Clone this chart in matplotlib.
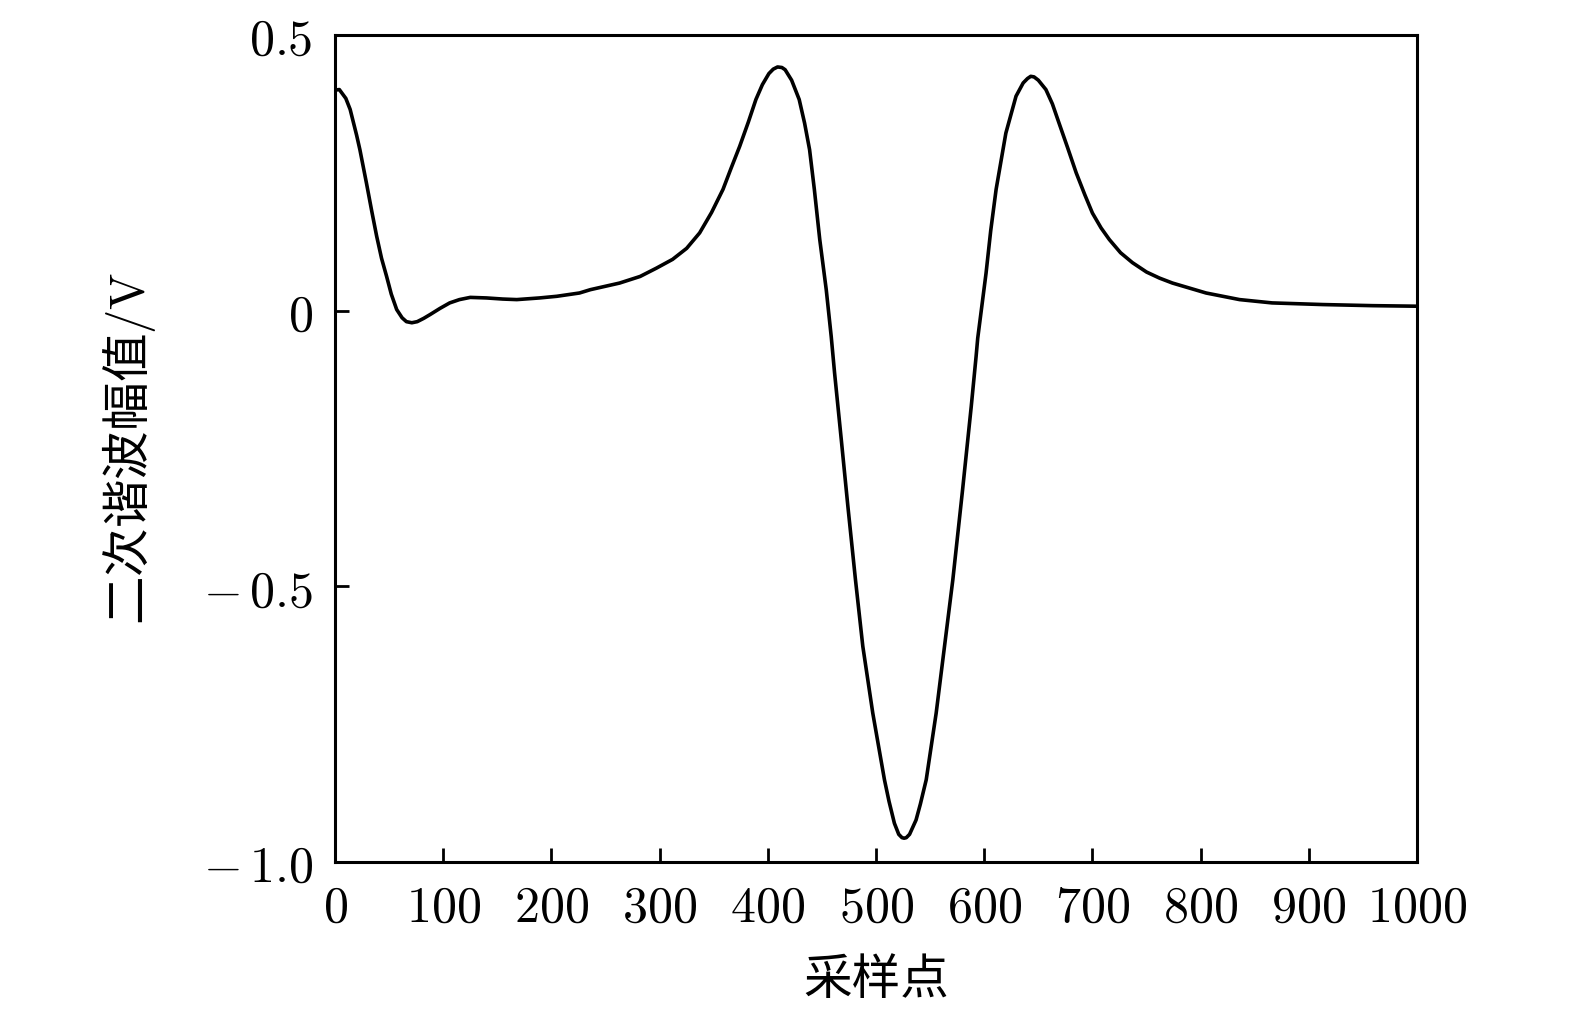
import matplotlib
matplotlib.use('Agg')
import matplotlib.pyplot as plt

TICK_FONT_SIZE = 36
LABEL_FONT_SIZE = 35
LINE_WIDTH = 2.6

plt.rcParams['mathtext.fontset'] = 'cm'
plt.rcParams['font.family'] = ['Noto Sans CJK SC', 'DejaVu Sans']

# sample points
sample_idx = [0, 4, 10, 14, 20, 23, 29, 34, 38.5, 43, 47.7, 52, 57, 62, 66, 71, 76, 82, 88,
              97, 106, 115, 125, 140, 155, 168, 189, 205, 226, 236, 263, 282, 297, 312,
              325, 337, 348, 358.6, 366, 374, 382, 389, 395, 401, 405, 409, 413, 416, 422,
              429, 434, 438.6, 443, 448, 454, 458.6, 461.7, 467.9, 474, 481, 487.8, 497,
              507.8, 512, 517, 521, 524, 526, 528, 531, 537, 541, 546.4, 555.6, 563.3, 571,
              580, 588, 592.5, 594, 601.7, 606, 611, 620, 629.4, 636, 640, 643, 646, 650,
              657, 663, 669, 677, 685, 693, 700, 708, 715.6, 726, 737, 750, 762, 774, 805,
              836, 866, 913, 959, 1000]
amplitude = [0.400, 0.401, 0.385, 0.365, 0.318, 0.292, 0.232, 0.180, 0.135, 0.095, 0.062,
             0.030, 0.002, -0.013, -0.020, -0.022, -0.020, -0.014, -0.007, 0.004, 0.014,
             0.020, 0.024, 0.023, 0.021, 0.020, 0.023, 0.026, 0.032, 0.038, 0.050, 0.062,
             0.077, 0.093, 0.113, 0.141, 0.178, 0.220, 0.258, 0.298, 0.342, 0.383, 0.410,
             0.430, 0.438, 0.442, 0.441, 0.437, 0.418, 0.383, 0.340, 0.292, 0.220, 0.129,
             0.038, -0.047, -0.113, -0.234, -0.355, -0.488, -0.609, -0.730, -0.851, -0.890,
             -0.930, -0.950, -0.956, -0.957, -0.956, -0.950, -0.924, -0.895, -0.851, -0.730,
             -0.609, -0.488, -0.325, -0.174, -0.083, -0.050, 0.068, 0.145, 0.220, 0.322,
             0.389, 0.413, 0.421, 0.425, 0.424, 0.418, 0.401, 0.375, 0.341, 0.296, 0.250,
             0.210, 0.177, 0.150, 0.129, 0.105, 0.087, 0.070, 0.059, 0.050, 0.032, 0.020,
             0.014, 0.011, 0.009, 0.008]

x_ticks = [0, 100, 200, 300, 400, 500, 600, 700, 800, 900, 1000]
y_ticks = [0.5, 0, -0.5, -1.0]
y_tick_labels = [r'$0.5$', r'$0$', r'$-\,0.5$', r'$-\,1.0$']

fig = plt.figure(figsize=(15.75, 10.14), dpi=100)
ax = fig.add_axes([0.2127, 0.150, 0.687, 0.8155])
ax.plot(sample_idx, amplitude, color='black', linewidth=LINE_WIDTH,
        solid_joinstyle='round', solid_capstyle='round')

ax.set_xlim(0, 1000)
ax.set_ylim(-1.0, 0.5)
ax.set_xticks(x_ticks)
ax.set_xticklabels(['$%d$' % v for v in x_ticks])
ax.set_yticks(y_ticks)
ax.set_yticklabels(y_tick_labels)

for s in ax.spines.values():
  s.set_linewidth(2.2)
ax.tick_params(direction='in', length=10, width=2.0, labelsize=TICK_FONT_SIZE,
               top=False, right=False)
ax.tick_params(axis='y', pad=16)
ax.tick_params(axis='x', pad=14)

ax.set_xlabel(u'采样点', fontsize=LABEL_FONT_SIZE, labelpad=16)
ax.set_ylabel(u'二次谐波幅值$/\\mathrm{V}$', fontsize=LABEL_FONT_SIZE, labelpad=32)

fig.savefig('out.png', dpi=100)
